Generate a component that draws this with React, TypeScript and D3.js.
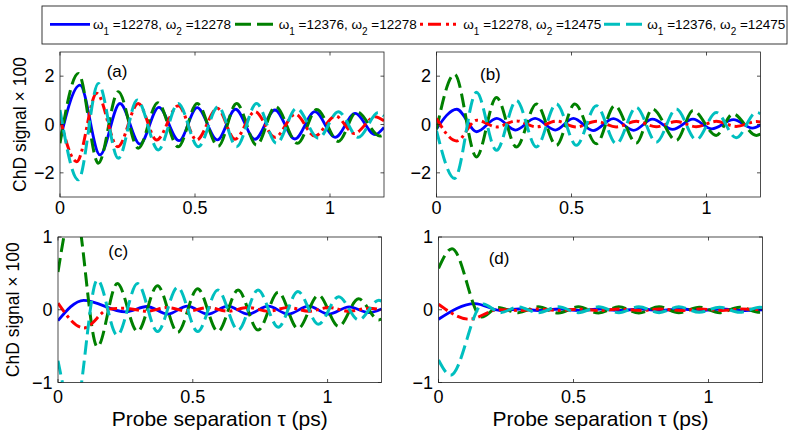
import React from "react";
import * as d3 from "d3";

// ---------- data ----------
const TAU_TICKS = [0, 0.5, 1];
const TAU_LABELS = ["0", "0.5", "1"];
const Y_TICKS_TOP = [-2, 0, 2];
const Y_LABELS_TOP = ["\u22122", "0", "2"];
const Y_TICKS_BOTTOM = [-1, 0, 1];
const Y_LABELS_BOTTOM = ["\u22121", "0", "1"];
const OMEGA1 = ["12278", "12376", "12278", "12376"];
const OMEGA2 = ["12278", "12278", "12475", "12475"];
const PANEL_LABELS = ["(a)", "(b)", "(c)", "(d)"];
const X_LABEL = "Probe separation \u03c4 (ps)";
const Y_LABEL = "ChD signal \u00d7 100";

type P = [number, number];

const aBlue: P[] = [[0,-0.64],[0.074,1.63],[0.148,-1.26],[0.222,0.87],[0.296,-0.81],[0.366,0.71],[0.441,-0.67],[0.508,0.70],[0.583,-0.64],[0.650,0.63],[0.722,-0.61],[0.796,0.60],[0.870,-0.60],[0.944,0.53],[1.019,-0.53],[1.093,0.46],[1.167,-0.42],[1.2,-0.12]];
const aGreen: P[] = [[0,-0.78],[0.068,2.11],[0.142,-1.6],[0.216,1.36],[0.290,-0.98],[0.362,0.9],[0.438,-0.92],[0.508,0.87],[0.586,-0.9],[0.654,0.87],[0.728,-0.85],[0.798,0.74],[0.880,-0.78],[0.951,0.62],[1.031,-0.7],[1.099,0.53],[1.185,-0.48],[1.2,-0.42]];
const aRed: P[] = [[0,0.25],[0.062,-1.54],[0.136,1.29],[0.214,-0.92],[0.290,0.87],[0.358,-0.64],[0.438,0.78],[0.506,-0.64],[0.583,0.67],[0.648,-0.61],[0.722,0.53],[0.796,-0.53],[0.872,0.42],[0.944,-0.48],[1.02,0.35],[1.09,-0.37],[1.167,0.32],[1.2,0.15]];
const aCyan: P[] = [[0,0.6],[0.068,-2.29],[0.142,1.7],[0.216,-1.4],[0.286,1.01],[0.364,-1.05],[0.438,0.87],[0.512,-0.92],[0.586,0.74],[0.654,-0.92],[0.728,0.87],[0.802,-0.78],[0.876,0.67],[0.957,-0.57],[1.031,0.53],[1.105,-0.53],[1.179,0.5],[1.2,0.35]];

const bBlue: P[] = [[0,-0.18],[0.075,0.63],[0.149,-0.3],[0.223,0.25],[0.293,-0.23],[0.365,0.25],[0.44,-0.23],[0.507,0.25],[0.58,-0.25],[0.655,0.24],[0.73,-0.24],[0.80,0.22],[0.875,-0.2],[0.95,0.22],[1.02,-0.18],[1.10,0.2],[1.17,-0.15],[1.2,-0.02]];
const bGreen: P[] = [[0,-0.2],[0.067,2.08],[0.148,-1.34],[0.222,1.12],[0.296,-0.93],[0.37,0.85],[0.444,-0.86],[0.512,0.85],[0.592,-0.8],[0.66,0.78],[0.74,-0.77],[0.80,0.64],[0.888,-0.66],[0.95,0.58],[1.036,-0.45],[1.098,0.44],[1.185,-0.45],[1.2,-0.4]];
const bRed: P[] = [[0,0.25],[0.075,-0.68],[0.149,0.18],[0.223,-0.1],[0.296,0.15],[0.37,-0.1],[0.444,0.14],[0.518,-0.1],[0.592,0.13],[0.666,-0.1],[0.74,0.13],[0.814,-0.09],[0.888,0.12],[0.962,-0.09],[1.036,0.13],[1.11,-0.08],[1.185,0.12],[1.2,0.1]];
const bCyan: P[] = [[0,-0.25],[0.067,-2.23],[0.148,1.33],[0.222,-1.07],[0.296,0.99],[0.37,-0.93],[0.444,0.85],[0.518,-0.86],[0.592,0.78],[0.666,-0.8],[0.74,0.71],[0.814,-0.73],[0.888,0.64],[0.962,-0.63],[1.036,0.5],[1.11,-0.55],[1.185,0.5],[1.2,0.45]];

const cBlue: P[] = [[0,-0.15],[0.095,0.13],[0.25,-0.03],[0.33,0.045],[0.407,-0.06],[0.48,0.05],[0.556,-0.06],[0.63,0.05],[0.705,-0.06],[0.78,0.05],[0.854,-0.06],[0.93,0.05],[1.004,-0.06],[1.08,0.04],[1.153,-0.04],[1.2,0.01]];
const cGreen: P[] = [[0,0.52],[0.06,1.45],[0.146,-0.51],[0.22,0.36],[0.295,-0.3],[0.369,0.33],[0.444,-0.31],[0.518,0.29],[0.593,-0.3],[0.668,0.27],[0.742,-0.28],[0.817,0.24],[0.89,-0.26],[0.966,0.2],[1.041,-0.23],[1.115,0.15],[1.19,-0.14],[1.2,-0.13]];
const cRed: P[] = [[0,0.09],[0.096,-0.25],[0.19,0.01],[0.25,0.02],[0.33,-0.02],[0.407,0.03],[0.48,-0.02],[0.556,0.03],[0.63,-0.02],[0.705,0.03],[0.78,-0.02],[0.854,0.03],[0.93,-0.02],[1.004,0.03],[1.08,-0.02],[1.153,0.02],[1.2,0]];
const cCyan: P[] = [[0,-0.7],[0.06,-1.45],[0.146,0.41],[0.22,-0.35],[0.295,0.36],[0.369,-0.3],[0.444,0.31],[0.518,-0.3],[0.593,0.27],[0.668,-0.28],[0.742,0.27],[0.817,-0.24],[0.89,0.25],[0.966,-0.2],[1.041,0.18],[1.115,-0.14],[1.19,0.13],[1.2,0.12]];

const dBlue: P[] = [[0,-0.13],[0.135,0.085],[0.23,-0.01],[0.3,0.01],[0.37,-0.01],[0.45,0.01],[0.52,-0.01],[0.6,0.01],[0.67,-0.01],[0.75,0.01],[0.82,-0.01],[0.9,0.01],[0.97,-0.01],[1.05,0.01],[1.12,-0.01],[1.2,0.0]];
const dGreen: P[] = [[0,0.57],[0.05,0.84],[0.16,-0.1],[0.22,0.03],[0.295,-0.04],[0.369,0.04],[0.444,-0.045],[0.518,0.04],[0.593,-0.045],[0.668,0.04],[0.742,-0.045],[0.817,0.04],[0.89,-0.04],[0.966,0.035],[1.041,-0.04],[1.115,0.035],[1.19,-0.035],[1.2,-0.03]];
const dRed: P[] = [[0,0.075],[0.115,-0.13],[0.22,0.0],[0.3,-0.01],[0.37,0.01],[0.45,-0.01],[0.52,0.01],[0.6,-0.01],[0.67,0.01],[0.75,-0.01],[0.82,0.01],[0.9,-0.01],[0.97,0.01],[1.05,-0.01],[1.12,0.01],[1.2,0.0]];
const dCyan: P[] = [[0,-0.69],[0.045,-0.9],[0.165,0.08],[0.23,-0.04],[0.295,0.04],[0.369,-0.04],[0.444,0.04],[0.518,-0.04],[0.593,0.04],[0.668,-0.04],[0.742,0.04],[0.817,-0.04],[0.89,0.04],[0.966,-0.035],[1.041,0.035],[1.115,-0.035],[1.19,0.035],[1.2,0.03]];

// ---------- styles / layout ----------
const FONT = "'Liberation Sans', Arial, Helvetica, sans-serif";
const STYLES = [
  { color: "#0000ff", dash: "", width: 2.8 },
  { color: "#008000", dash: "14,6", width: 3 },
  { color: "#ff0000", dash: "11,4,3,4", width: 3 },
  { color: "#00bfbf", dash: "14,6", width: 3 },
];

const PANELS = [
  { x0: 60, x1: 384, y0: 52, y1: 197, dom: [-3, 3], ticks: Y_TICKS_TOP, labels: Y_LABELS_TOP, series: [aBlue, aGreen, aRed, aCyan], lab: [106.7, 77], ylab: 26, xtickBase: 213.5, xlab: false },
  { x0: 436.5, x1: 760.5, y0: 52, y1: 197, dom: [-3, 3], ticks: Y_TICKS_TOP, labels: Y_LABELS_TOP, series: [bBlue, bGreen, bRed, bCyan], lab: [480, 80], ylab: 0, xtickBase: 213.5, xlab: false },
  { x0: 58, x1: 381.5, y0: 237, y1: 382.5, dom: [-1, 1], ticks: Y_TICKS_BOTTOM, labels: Y_LABELS_BOTTOM, series: [cBlue, cGreen, cRed, cCyan], lab: [108.3, 257], ylab: 19, xtickBase: 403, xlab: true },
  { x0: 438.5, x1: 762.5, y0: 237, y1: 382.5, dom: [-1, 1], ticks: Y_TICKS_BOTTOM, labels: Y_LABELS_BOTTOM, series: [dBlue, dGreen, dRed, dCyan], lab: [488.7, 263.5], ylab: 0, xtickBase: 403, xlab: true },
];

function Panel({ p, idx }: { p: any; idx: number }) {
  const x = d3.scaleLinear().domain([0, 1.2]).range([p.x0, p.x1]);
  const y = d3.scaleLinear().domain(p.dom).range([p.y1, p.y0]);
  const line = d3
    .line<P>()
    .x((d) => x(d[0]))
    .y((d) => y(d[1]))
    .curve(d3.curveMonotoneX);
  const clipId = `clip${idx}`;
  const tl = 3.5;
  return (
    <g>
      <defs>
        <clipPath id={clipId}>
          <rect x={p.x0} y={p.y0} width={p.x1 - p.x0} height={p.y1 - p.y0} />
        </clipPath>
      </defs>
      <rect x={p.x0} y={p.y0} width={p.x1 - p.x0} height={p.y1 - p.y0} fill="#fff" />
      <g clipPath={`url(#${clipId})`}>
        {p.series.map((s: P[], i: number) => (
          <path
            key={i}
            d={line(s) || ""}
            fill="none"
            stroke={STYLES[i].color}
            strokeWidth={STYLES[i].width}
            strokeDasharray={STYLES[i].dash || undefined}
          />
        ))}
      </g>
      {TAU_TICKS.map((t, i) => (
        <g key={"xt" + i}>
          <line x1={x(t)} x2={x(t)} y1={p.y1} y2={p.y1 - tl} stroke="#222" strokeWidth={0.8} />
          <line x1={x(t)} x2={x(t)} y1={p.y0} y2={p.y0 + tl} stroke="#222" strokeWidth={0.8} />
          <text x={x(t)} y={p.xtickBase} textAnchor="middle" fontSize={18} fontFamily={FONT} fill="#000">
            {TAU_LABELS[i]}
          </text>
        </g>
      ))}
      {p.ticks.map((t: number, i: number) => (
        <g key={"yt" + i}>
          <line x1={p.x0} x2={p.x0 + tl} y1={y(t)} y2={y(t)} stroke="#222" strokeWidth={0.8} />
          <line x1={p.x1} x2={p.x1 - tl} y1={y(t)} y2={y(t)} stroke="#222" strokeWidth={0.8} />
          <text x={p.x0 - 5.5} y={y(t) + 6.3} textAnchor="end" fontSize={18} fontFamily={FONT} fill="#000">
            {p.labels[i]}
          </text>
        </g>
      ))}
      <rect x={p.x0} y={p.y0} width={p.x1 - p.x0} height={p.y1 - p.y0} fill="none" stroke="#222" strokeWidth={0.8} />
      <text x={p.lab[0]} y={p.lab[1]} fontSize={17} fontFamily={FONT} fill="#000">
        {PANEL_LABELS[idx]}
      </text>
      {p.ylab > 0 && (
        <text
          transform={`translate(${p.ylab},${(p.y0 + p.y1) / 2}) rotate(-90)`}
          textAnchor="middle"
          fontSize={17.5}
          fontFamily={FONT}
          fill="#000"
        >
          {Y_LABEL}
        </text>
      )}
      {p.xlab && (
        <text x={(p.x0 + p.x1) / 2} y={426} textAnchor="middle" fontSize={21} fontFamily={FONT} fill="#000">
          {X_LABEL}
        </text>
      )}
    </g>
  );
}

const LEGEND_SAMPLES = [
  [50, 90, 93],
  [235, 273, 278.7],
  [420, 460, 463.3],
  [604, 642, 647.3],
];

function Legend() {
  const cy = 24.3;
  return (
    <g>
      <rect x={42} y={6} width={745} height={38} fill="#fff" stroke="#222" strokeWidth={0.9} />
      {STYLES.map((s, i) => (
        <g key={i}>
          <line
            x1={LEGEND_SAMPLES[i][0]}
            x2={LEGEND_SAMPLES[i][1]}
            y1={cy}
            y2={cy}
            stroke={s.color}
            strokeWidth={s.width}
            strokeDasharray={i === 0 ? undefined : i === 2 ? "3,5,13,5,3,4" : "16,6"}
          />
          <text x={LEGEND_SAMPLES[i][2]} y={28.5} fontSize={13.5} fontFamily={FONT} fill="#000">
            {"\u03c9"}
            <tspan dy={6} fontSize={10}>1</tspan>
            <tspan dy={-6}>{` =${OMEGA1[i]}, \u03c9`}</tspan>
            <tspan dy={6} fontSize={10}>2</tspan>
            <tspan dy={-6}>{` =${OMEGA2[i]}`}</tspan>
          </text>
        </g>
      ))}
    </g>
  );
}

export default function App() {
  return (
    <svg
      width={793}
      height={436}
      viewBox="0 0 793 436"
      style={{ position: "absolute", left: 0, top: 0, background: "#fff" }}
    >
      <rect x={0} y={0} width={793} height={436} fill="#fff" />
      {PANELS.map((p, i) => (
        <Panel key={i} p={p} idx={i} />
      ))}
      <Legend />
    </svg>
  );
}
